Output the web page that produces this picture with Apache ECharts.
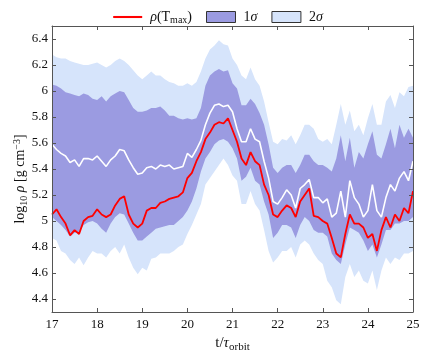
<!DOCTYPE html>
<html>
<head>
<meta charset="utf-8">
<script src="https://cdn.jsdelivr.net/npm/echarts@6/dist/echarts.min.js"></script>
<style>
  html, body { margin: 0; padding: 0; background: #fff; }
  #chart { width: 436px; height: 353px; }
</style>
</head>
<body>
<div id="chart"></div>
<script>
// sample times (t / tau_orbit)
var t = [17.0,17.1,17.2,17.3,17.4,17.5,17.6,17.7,17.8,17.9,18.0,18.1,18.2,18.3,18.4,18.5,18.6,18.7,18.8,18.9,
         19.0,19.1,19.2,19.3,19.4,19.5,19.6,19.7,19.8,19.9,20.0,20.1,20.2,20.3,20.4,20.5,20.6,20.7,20.8,20.9,
         21.0,21.1,21.2,21.3,21.4,21.5,21.6,21.7,21.8,21.9,22.0,22.1,22.2,22.3,22.4,22.5,22.6,22.7,22.8,22.9,
         23.0,23.1,23.2,23.3,23.4,23.5,23.6,23.7,23.8,23.9,24.0,24.1,24.2,24.3,24.4,24.5,24.6,24.7,24.8,24.9,25.0];

// 2 sigma upper / lower
var hi2 = [6.28,6.26,6.25,6.25,6.23,6.22,6.21,6.20,6.20,6.21,6.22,6.20,6.18,6.20,6.23,6.25,6.23,6.20,6.16,6.12,
           6.09,6.12,6.15,6.12,6.12,6.09,6.07,6.06,6.04,6.04,6.06,6.04,6.07,6.15,6.25,6.32,6.35,6.39,6.36,6.35,
           6.25,6.20,6.12,6.09,6.18,6.09,6.04,5.92,5.76,5.61,5.59,5.63,5.62,5.66,5.59,5.66,5.74,5.74,5.71,5.63,
           5.61,5.63,5.59,5.74,5.90,5.74,5.85,5.69,5.74,5.66,5.79,5.90,5.74,5.74,5.92,5.97,5.87,5.99,5.96,6.03,6.04];
var lo2 = [4.87,4.85,4.77,4.75,4.70,4.67,4.72,4.66,4.72,4.77,4.75,4.75,4.72,4.77,4.80,4.75,4.82,4.72,4.64,4.59,
           4.64,4.62,4.71,4.72,4.75,4.75,4.75,4.77,4.80,4.82,4.90,4.97,5.05,5.13,5.28,5.33,5.38,5.43,5.48,5.43,
           5.35,5.31,5.13,5.13,5.23,5.13,5.08,4.93,4.77,4.68,4.72,4.77,4.77,4.80,4.72,4.82,4.85,4.82,4.75,4.70,
           4.67,4.54,4.49,4.39,4.36,4.57,4.67,4.57,4.62,4.54,4.52,4.62,4.47,4.62,4.72,4.67,4.72,4.70,4.75,4.75,4.77];

// 1 sigma upper / lower
var hi1 = [6.05,6.04,6.02,5.99,5.98,5.97,5.96,5.98,5.97,5.94,5.93,5.96,5.92,5.96,5.98,6.00,5.99,5.93,5.87,5.84,
           5.84,5.85,5.87,5.87,5.88,5.85,5.81,5.81,5.79,5.78,5.79,5.78,5.79,5.87,6.04,6.12,6.15,6.17,6.15,6.16,
           6.06,6.02,5.89,5.89,5.94,5.90,5.83,5.74,5.59,5.41,5.37,5.41,5.43,5.43,5.37,5.43,5.51,5.51,5.46,5.43,
           5.43,5.41,5.38,5.48,5.66,5.46,5.64,5.41,5.53,5.48,5.59,5.69,5.51,5.48,5.59,5.71,5.56,5.74,5.64,5.71,5.64];
var lo1 = [5.03,5.00,4.97,4.93,4.88,4.91,4.91,4.97,4.99,5.00,4.98,4.94,4.91,4.98,5.03,5.06,5.05,4.98,4.91,4.85,
           4.85,4.88,4.91,4.94,4.95,4.96,4.97,4.97,5.00,5.03,5.08,5.15,5.25,5.38,5.48,5.53,5.59,5.62,5.63,5.61,
           5.56,5.48,5.31,5.34,5.41,5.31,5.28,5.15,5.05,4.87,4.91,4.97,4.97,4.95,4.87,4.97,5.03,5.00,4.93,4.91,
           4.91,4.88,4.75,4.70,4.67,4.82,4.95,4.93,4.91,4.85,4.77,4.82,4.72,4.82,4.93,4.93,4.98,4.98,5.00,5.00,5.03];

// median (white) and rho(T_max) (red)
var med = [5.59,5.55,5.52,5.50,5.45,5.47,5.42,5.48,5.48,5.47,5.50,5.46,5.42,5.47,5.50,5.55,5.54,5.47,5.41,5.36,
           5.37,5.41,5.42,5.40,5.43,5.42,5.43,5.40,5.41,5.42,5.52,5.49,5.55,5.62,5.74,5.83,5.89,5.90,5.88,5.89,
           5.84,5.71,5.61,5.61,5.71,5.63,5.61,5.46,5.33,5.15,5.13,5.18,5.24,5.20,5.10,5.25,5.28,5.32,5.18,5.18,
           5.14,5.17,5.03,5.06,5.23,5.03,5.31,5.18,5.13,5.03,5.08,5.28,5.08,5.03,5.18,5.28,5.23,5.33,5.38,5.31,5.46];
var rho = [5.05,5.09,5.03,4.98,4.89,4.93,4.90,5.00,5.03,5.04,5.09,5.05,5.03,5.05,5.12,5.17,5.19,5.05,4.98,4.95,
           4.98,5.08,5.10,5.10,5.14,5.15,5.17,5.18,5.19,5.22,5.33,5.37,5.46,5.53,5.63,5.68,5.74,5.76,5.75,5.79,
           5.70,5.61,5.48,5.43,5.53,5.46,5.43,5.28,5.20,5.05,5.03,5.08,5.12,5.10,5.03,5.15,5.20,5.25,5.04,5.03,
           5.00,4.98,4.87,4.75,4.72,4.90,5.05,4.98,4.98,4.95,4.87,4.90,4.77,4.93,5.03,4.95,5.05,5.00,5.10,5.06,5.23];

var yTicks = [4.4, 4.6, 4.8, 5, 5.2, 5.4, 5.6, 5.8, 6, 6.2, 6.4];

var C1 = '#9b9be1';
var C2 = '#d6e4fb';
var FONT = 'Liberation Serif';

function pairs(vals) {
    return t.map(function (x, i) { return [x, vals[i]]; });
}

var chart = echarts.init(document.getElementById('chart'), null, {renderer: 'canvas'});

// bands are painted as layered areas filled down to the axis bottom:
// hi2 (light) -> hi1 (dark) -> lo1 (light) -> lo2 (white)
function bandSeries(name, vals, color, z) {
    return {name: name, type: 'line', showSymbol: false, symbol: 'none', silent: true,
            data: pairs(vals), z: z,
            lineStyle: {width: 0, opacity: 0},
            areaStyle: {color: color, opacity: 1, origin: 'start'}};
}

var axisCol = '#555';

var option = {
    animation: false,
    textStyle: {fontFamily: FONT},
    grid: {left: 52, right: 23, top: 26, bottom: 41, outerBoundsMode: 'none'},
    legend: {
        top: 5, left: 'center', itemGap: 14, itemWidth: 29, itemHeight: 11,
        textStyle: {fontFamily: FONT, fontSize: 14, color: '#111', padding: [0, 0, 0, 3],
            rich: {
                n: {fontFamily: FONT, fontSize: 14, color: '#111'},
                g: {fontFamily: FONT, fontSize: 14, fontStyle: 'italic', color: '#111'},
                s: {fontFamily: FONT, fontSize: 10, color: '#111', padding: [6, 0, 0, 0]}
            }},
        formatter: function (name) {
            if (name === 'rho') return '{g|ρ}{n|(T}{s|max}{n|)}';
            return '{n|' + name.charAt(0) + '}{g|σ}';
        },
        data: [
            {name: 'rho', icon: 'path://M0,0 L28,0 L28,2 L0,2 Z', itemStyle: {color: '#ff0000', borderWidth: 0}},
            {name: '1σ', icon: 'rect', itemStyle: {color: C1, borderColor: '#333', borderWidth: 1}},
            {name: '2σ', icon: 'rect', itemStyle: {color: C2, borderColor: '#333', borderWidth: 1}}
        ]
    },
    xAxis: [{
        type: 'value', min: 17, max: 25, interval: 1, z: 10,
        axisLine: {lineStyle: {color: axisCol, width: 1}},
        axisTick: {inside: true, length: 4, lineStyle: {color: axisCol}},
        splitLine: {show: false},
        axisLabel: {fontFamily: FONT, fontSize: 13, color: '#111', margin: 6},
        name: '{n|t/}{g|τ}{s|orbit}', nameLocation: 'middle', nameGap: 22,
        nameTextStyle: {rich: {
            n: {fontFamily: FONT, fontSize: 15, color: '#111'},
            g: {fontFamily: FONT, fontSize: 15, fontStyle: 'italic', color: '#111'},
            s: {fontFamily: FONT, fontSize: 11, color: '#111', padding: [7, 0, 0, 0]}
        }}
    }, {
        type: 'value', position: 'top', min: 17, max: 25, interval: 1, z: 10,
        axisLine: {lineStyle: {color: axisCol, width: 1}},
        axisTick: {inside: true, length: 4, lineStyle: {color: axisCol}},
        axisLabel: {show: false}, splitLine: {show: false}
    }],
    yAxis: [{
        type: 'value', min: 4.3, max: 6.5, z: 10,
        axisLine: {show: true, lineStyle: {color: axisCol, width: 1}},
        axisTick: {show: true, inside: true, length: 4, customValues: yTicks, lineStyle: {color: axisCol}},
        splitLine: {show: false},
        axisLabel: {fontFamily: FONT, fontSize: 13, color: '#111', margin: 4, customValues: yTicks},
        name: '{n|log}{s|10}{g| ρ}{n| [g cm}{p|−3}{n|]}', nameLocation: 'middle', nameGap: 23,
        nameMoveOverlap: false,
        nameTextStyle: {padding: [0, 20, 0, 0], rich: {
            n: {fontFamily: FONT, fontSize: 14, color: '#111'},
            g: {fontFamily: FONT, fontSize: 14, fontStyle: 'italic', color: '#111'},
            s: {fontFamily: FONT, fontSize: 10, color: '#111', padding: [7, 0, 0, 0]},
            p: {fontFamily: FONT, fontSize: 10, color: '#111', padding: [0, 0, 7, 0]}
        }}
    }, {
        type: 'value', position: 'right', min: 4.3, max: 6.5, z: 10,
        axisLine: {show: true, lineStyle: {color: axisCol, width: 1}},
        axisTick: {show: true, inside: true, length: 4, customValues: yTicks, lineStyle: {color: axisCol}},
        axisLabel: {show: false}, splitLine: {show: false}
    }],
    series: [
        bandSeries('2σ', hi2, C2, 1),
        bandSeries('1σ', hi1, C1, 1.1),
        bandSeries('2σ', lo1, C2, 1.2),
        bandSeries('white', lo2, '#ffffff', 1.3),
        {name: 'median', type: 'line', showSymbol: false, symbol: 'none', data: pairs(med),
         lineStyle: {color: '#ffffff', width: 1.6}, z: 3},
        {name: 'rho', type: 'line', showSymbol: false, symbol: 'none', data: pairs(rho),
         itemStyle: {color: '#ff0000'}, lineStyle: {color: '#ff0000', width: 1.8}, z: 4}
    ]
};

chart.setOption(option);
</script>
</body>
</html>
